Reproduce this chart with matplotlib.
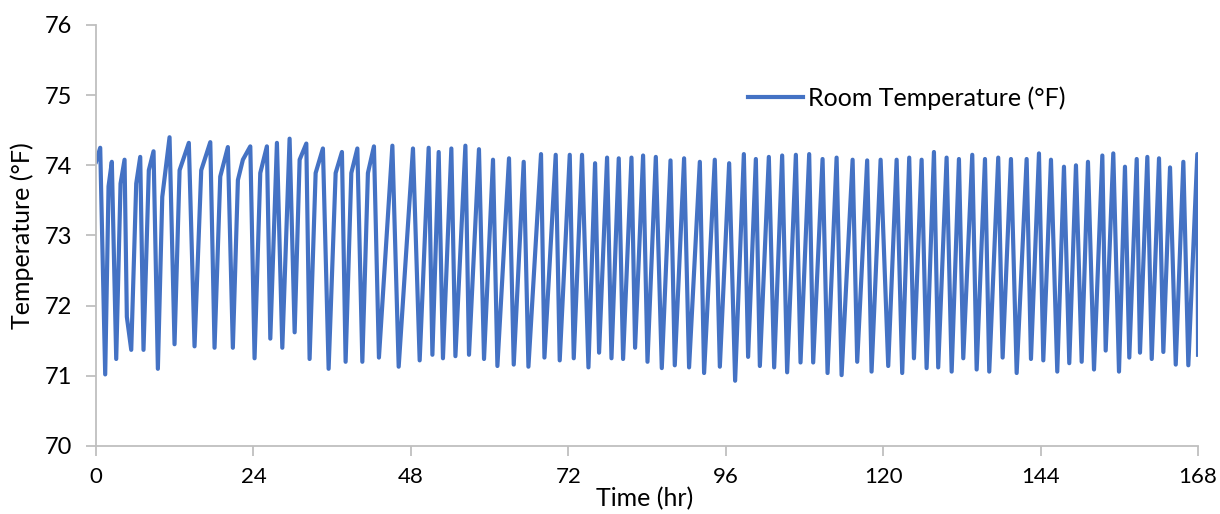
import numpy as np
import matplotlib
matplotlib.use("Agg")
import matplotlib.pyplot as plt

# turning points (peaks, troughs, bends): hours, deg F
hours = [
    0.0, 0.64, 1.40, 1.91, 2.41, 3.08, 3.74, 4.35, 4.70, 5.37, 6.13, 6.74, 7.24,
    8.05, 8.77, 9.43, 10.10, 11.21, 11.97, 12.74, 14.15, 15.02, 16.04, 17.42,
    18.07, 18.94, 20.10, 20.86, 21.63, 22.39, 23.52, 24.17, 25.04, 26.05, 26.57,
    27.58, 28.40, 29.51, 30.28, 31.04, 32.06, 32.56, 33.48, 34.59, 35.46, 36.53,
    37.49, 38.05, 38.92, 39.84, 40.60, 41.45, 42.37, 43.13, 45.18, 46.14, 48.32,
    49.34, 50.71, 51.28, 52.24, 52.89, 54.17, 54.79, 56.31, 56.86, 58.38, 59.15,
    60.52, 61.19, 62.96, 63.68, 65.20, 65.92, 67.84, 68.36, 70.08, 70.69, 72.22,
    72.83, 74.09, 75.07, 76.08, 76.69, 77.91, 78.58, 79.69, 80.35, 81.63, 82.18,
    83.40, 84.07, 85.34, 86.25, 87.58, 88.23, 89.65, 90.41, 92.05, 92.70, 94.33,
    95.10, 96.52, 97.43, 98.76, 99.41, 100.59, 101.20, 102.57, 103.38, 104.60,
    105.36, 106.69, 107.40, 108.72, 109.33, 110.76, 111.52, 112.90, 113.66,
    115.34, 116.04, 117.56, 118.23, 119.61, 120.77, 122.05, 122.90, 123.97,
    124.69, 125.86, 126.62, 127.74, 128.39, 129.67, 130.44, 131.55, 132.21,
    133.58, 134.25, 135.52, 136.17, 137.54, 138.21, 139.48, 140.35, 141.87,
    142.53, 143.75, 144.41, 145.58, 146.54, 147.56, 148.37, 149.39, 150.26,
    151.22, 152.14, 153.41, 153.92, 155.08, 155.95, 156.86, 157.52, 158.65,
    159.15, 160.27, 160.94, 162.05, 162.71, 163.73, 164.60, 165.76, 166.52,
    167.89, 168.0,
]
room_temp = [
    74.05, 74.25, 71.02, 73.70, 74.05, 71.24, 73.74, 74.08, 71.84, 71.37, 73.74,
    74.12, 71.37, 73.93, 74.20, 71.10, 73.55, 74.40, 71.45, 73.93, 74.32, 71.42,
    73.93, 74.33, 71.40, 73.84, 74.26, 71.40, 73.79, 74.08, 74.27, 71.25, 73.89,
    74.27, 71.53, 74.32, 71.40, 74.38, 71.62, 74.08, 74.31, 71.24, 73.89, 74.24,
    71.10, 73.89, 74.19, 71.20, 73.89, 74.24, 71.20, 73.89, 74.27, 71.26, 74.28,
    71.13, 74.24, 71.22, 74.25, 71.30, 74.19, 71.25, 74.24, 71.28, 74.28, 71.30,
    74.23, 71.24, 74.08, 71.14, 74.10, 71.16, 74.05, 71.13, 74.16, 71.26, 74.15,
    71.22, 74.15, 71.25, 74.15, 71.12, 74.03, 71.33, 74.11, 71.25, 74.10, 71.24,
    74.11, 71.40, 74.14, 71.20, 74.12, 71.11, 74.07, 71.15, 74.10, 71.12, 74.05,
    71.04, 74.08, 71.13, 74.03, 70.93, 74.16, 71.27, 74.09, 71.14, 74.12, 71.12,
    74.14, 71.05, 74.15, 71.19, 74.16, 71.19, 74.09, 71.04, 74.11, 71.01, 74.08,
    71.20, 74.07, 71.06, 74.08, 71.14, 74.08, 71.04, 74.11, 71.25, 74.08, 71.11,
    74.19, 71.12, 74.11, 71.06, 74.09, 71.25, 74.15, 71.09, 74.09, 71.06, 74.11,
    71.26, 74.09, 71.04, 74.09, 71.24, 74.17, 71.22, 74.08, 71.06, 73.98, 71.18,
    74.00, 71.20, 74.05, 71.09, 74.14, 71.36, 74.17, 71.06, 73.98, 71.26, 74.09,
    71.33, 74.12, 71.24, 74.10, 71.34, 73.97, 71.16, 74.05, 71.15, 74.16, 71.30,
]
x_ticks = [0, 24, 48, 72, 96, 120, 144, 168]
y_ticks = [70, 71, 72, 73, 74, 75, 76]

plt.rcParams['font.family'] = ['Lato', 'DejaVu Sans']
fs_big = 18

fig = plt.figure(figsize=(12.2, 5.14), dpi=100)
ax = fig.add_axes([0.0787, 0.1323, 0.9033, 0.8191])

ax.plot(hours, room_temp, color="#4472C4", lw=3.0, solid_joinstyle="round",
        label="Room Temperature (°F)")

ax.set_xlim(0, 168)
ax.set_ylim(70, 76)
ax.set_xticks(x_ticks)
ax.set_yticks(y_ticks)

for s in ["top", "right"]:
    ax.spines[s].set_visible(False)
for s in ["left", "bottom"]:
    ax.spines[s].set_color("#BFBFBF")
    ax.spines[s].set_linewidth(1.3)
ax.tick_params(colors="#BFBFBF", labelcolor="black", length=7, width=1.3)
ax.tick_params(axis="x", pad=8, labelsize=16)
ax.tick_params(axis="y", pad=10, labelsize=17)

ax.set_xlabel("Time (hr)", fontsize=fs_big)
ax.xaxis.set_label_coords(0.498, -0.098)
ax.set_ylabel("Temperature (°F)", fontsize=fs_big)
ax.yaxis.set_label_coords(-0.056, 0.5)

ax.legend(loc="center left", bbox_to_anchor=(0.5917, 0.8266), frameon=False,
          fontsize=fs_big, borderpad=0, borderaxespad=0, handlelength=2.2,
          handletextpad=0.2)

fig.savefig("out.png", dpi=100)
